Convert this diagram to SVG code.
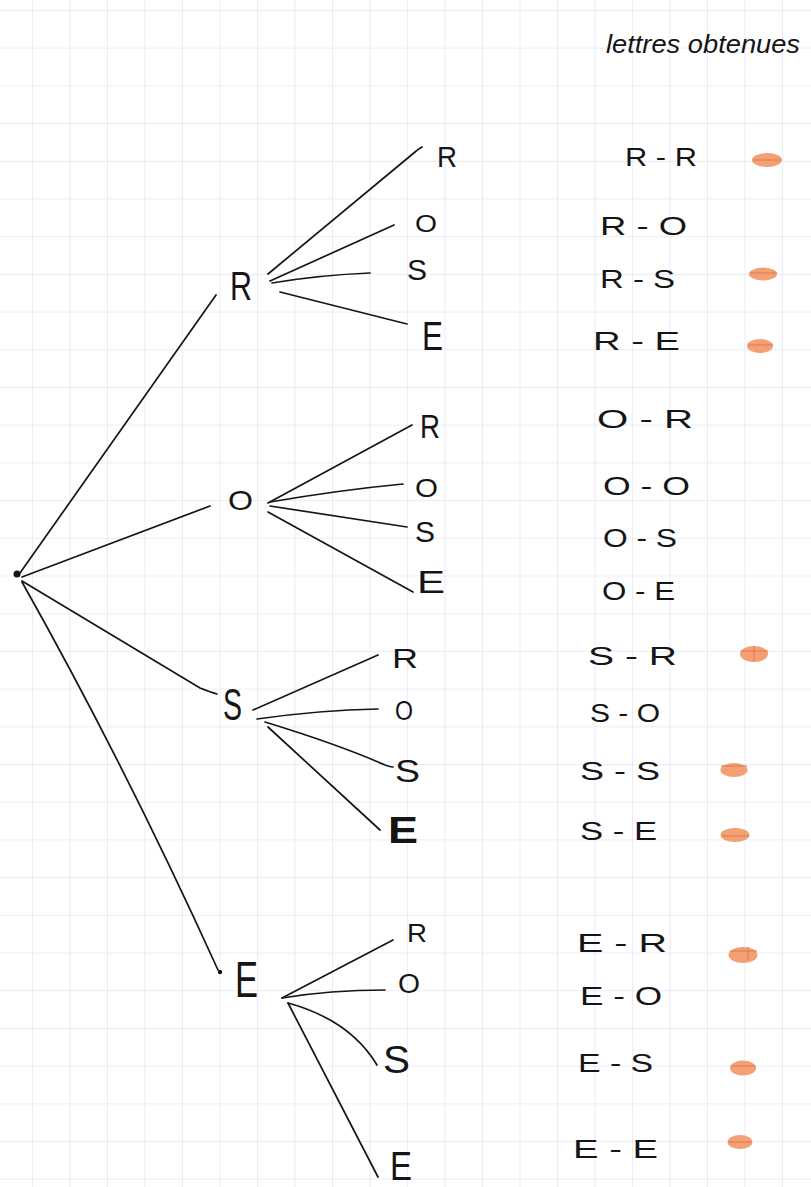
<svg xmlns="http://www.w3.org/2000/svg" width="811" height="1187" viewBox="0 0 811 1187">
<defs>
<pattern id="grid" x="32" y="10" width="37.5" height="37.7" patternUnits="userSpaceOnUse">
<path d="M0,0 H37.5 M0,0 V37.7" fill="none" stroke="#dadaf4" stroke-width="1.1"/>
</pattern>
<style>
.e{fill:none;stroke:#151515;stroke-width:1.7;stroke-linecap:round}
.t{font-family:"Liberation Sans",Arial,sans-serif;fill:#151515}
.c{font-family:"Liberation Sans",Arial,sans-serif;fill:#151515;font-size:26px}
.m{fill:#f3a073}
.ml{stroke:#e07656;stroke-width:1;fill:none}
</style>
</defs>
<rect width="811" height="1187" fill="#ffffff"/>
<rect width="811" height="1187" fill="url(#grid)"/>

<text class="t" x="606" y="53" font-size="26" font-style="italic" textLength="194" lengthAdjust="spacingAndGlyphs">lettres obtenues</text>

<g id="connectors">
<path class="e" d="M20,573 L216,295"/>
<path class="e" d="M22,577 L210,506"/>
<path class="e" d="M22,581 L200,688 Q210,692 217,694"/>
<path class="e" d="M22,582 Q125,765 218,970"/>
<path class="e" d="M268,274 L415,152 Q420,148 422,147"/>
<path class="e" d="M270,281 L394,225"/>
<path class="e" d="M272,283 Q320,275 370,273"/>
<path class="e" d="M280,292 L407,324"/>
<path class="e" d="M268,503 L412,425"/>
<path class="e" d="M270,502 Q340,490 403,484"/>
<path class="e" d="M270,506 L407,527"/>
<path class="e" d="M268,512 L413,592"/>
<path class="e" d="M253,710 L378,655"/>
<path class="e" d="M257,719 Q320,710 378,709"/>
<path class="e" d="M265,722 Q340,745 385,765 Q390,767 393,767"/>
<path class="e" d="M268,727 L380,830"/>
<path class="e" d="M282,998 L393,940"/>
<path class="e" d="M282,998 Q330,990 385,990"/>
<path class="e" d="M288,1003 Q350,1020 377,1065"/>
<path class="e" d="M288,1003 L378,1177"/>
<circle cx="220" cy="972" r="2.2" fill="#151515"/>
</g>

<g id="root"><circle cx="17" cy="574" r="3.5" fill="#151515"/></g>

<g id="n-R"><text class="t" x="230" y="300" font-size="40" textLength="22" lengthAdjust="spacingAndGlyphs">R</text></g>
<g id="n-O"><text class="t" x="228" y="510" font-size="28" textLength="25" lengthAdjust="spacingAndGlyphs">O</text></g>
<g id="n-S"><text class="t" x="223" y="720" font-size="44" textLength="19" lengthAdjust="spacingAndGlyphs">S</text></g>
<g id="n-E"><text class="t" x="235" y="997" font-size="50" textLength="23" lengthAdjust="spacingAndGlyphs">E</text></g>

<g id="n-RR"><text class="t" x="437" y="167" font-size="30" textLength="20" lengthAdjust="spacingAndGlyphs">R</text></g>
<g id="n-RO"><text class="t" x="415" y="232" font-size="24" textLength="22" lengthAdjust="spacingAndGlyphs">O</text></g>
<g id="n-RS"><text class="t" x="407" y="280" font-size="30" textLength="20" lengthAdjust="spacingAndGlyphs">S</text></g>
<g id="n-RE"><text class="t" x="422" y="350" font-size="40" textLength="21" lengthAdjust="spacingAndGlyphs">E</text></g>

<g id="n-OR"><text class="t" x="420" y="438" font-size="34" textLength="20" lengthAdjust="spacingAndGlyphs">R</text></g>
<g id="n-OO"><text class="t" x="415" y="497" font-size="26" textLength="23" lengthAdjust="spacingAndGlyphs">O</text></g>
<g id="n-OS"><text class="t" x="415" y="542" font-size="30" textLength="20" lengthAdjust="spacingAndGlyphs">S</text></g>
<g id="n-OE"><text class="t" x="417" y="593" font-size="32" textLength="28" lengthAdjust="spacingAndGlyphs">E</text></g>

<g id="n-SR"><text class="t" x="392" y="668" font-size="28" textLength="26" lengthAdjust="spacingAndGlyphs">R</text></g>
<g id="n-SO"><text class="t" x="395" y="720" font-size="27" textLength="18" lengthAdjust="spacingAndGlyphs">O</text></g>
<g id="n-SS"><text class="t" x="395" y="782" font-size="32" textLength="25" lengthAdjust="spacingAndGlyphs">S</text></g>
<g id="n-SE"><text class="t" x="388" y="843" font-size="36" font-weight="bold" textLength="30" lengthAdjust="spacingAndGlyphs">E</text></g>

<g id="n-ER"><text class="t" x="407" y="942" font-size="26" textLength="20" lengthAdjust="spacingAndGlyphs">R</text></g>
<g id="n-EO"><text class="t" x="398" y="993" font-size="27" textLength="22" lengthAdjust="spacingAndGlyphs">O</text></g>
<g id="n-ES"><text class="t" x="383" y="1073" font-size="38" textLength="27" lengthAdjust="spacingAndGlyphs">S</text></g>
<g id="n-EE"><text class="t" x="390" y="1180" font-size="40" textLength="22" lengthAdjust="spacingAndGlyphs">E</text></g>

<g id="results">
<text class="c" x="625" y="166" textLength="72" lengthAdjust="spacingAndGlyphs">R - R</text>
<text class="c" x="600" y="235" textLength="87" lengthAdjust="spacingAndGlyphs">R - O</text>
<text class="c" x="600" y="288" textLength="75" lengthAdjust="spacingAndGlyphs">R - S</text>
<text class="c" x="593" y="350" textLength="87" lengthAdjust="spacingAndGlyphs">R - E</text>
<text class="c" x="597" y="428" textLength="96" lengthAdjust="spacingAndGlyphs">O - R</text>
<text class="c" x="603" y="495" textLength="87" lengthAdjust="spacingAndGlyphs">O - O</text>
<text class="c" x="603" y="547" textLength="74" lengthAdjust="spacingAndGlyphs">O - S</text>
<text class="c" x="602" y="600" textLength="73" lengthAdjust="spacingAndGlyphs">O - E</text>
<text class="c" x="588" y="665" textLength="89" lengthAdjust="spacingAndGlyphs">S - R</text>
<text class="c" x="590" y="722" textLength="70" lengthAdjust="spacingAndGlyphs">S - O</text>
<text class="c" x="580" y="780" textLength="80" lengthAdjust="spacingAndGlyphs">S - S</text>
<text class="c" x="580" y="840" textLength="77" lengthAdjust="spacingAndGlyphs">S - E</text>
<text class="c" x="577" y="952" textLength="90" lengthAdjust="spacingAndGlyphs">E - R</text>
<text class="c" x="580" y="1005" textLength="82" lengthAdjust="spacingAndGlyphs">E - O</text>
<text class="c" x="578" y="1072" textLength="75" lengthAdjust="spacingAndGlyphs">E - S</text>
<text class="c" x="573" y="1158" textLength="85" lengthAdjust="spacingAndGlyphs">E - E</text>
</g>

<g id="marks">
<ellipse class="m" cx="767" cy="160" rx="15" ry="7"/><path class="ml" d="M753,160 H781"/>
<ellipse class="m" cx="763" cy="274" rx="14" ry="6.5"/><path class="ml" d="M750,273 H777"/>
<ellipse class="m" cx="760" cy="346" rx="13" ry="7"/><path class="ml" d="M748,345 H773"/>
<ellipse class="m" cx="754" cy="654" rx="14" ry="8"/><path class="ml" d="M741,651 H768 M754,646 V661"/>
<ellipse class="m" cx="734" cy="770" rx="13.5" ry="7"/><path class="ml" d="M721,766 H747"/>
<ellipse class="m" cx="735" cy="835" rx="14.5" ry="7"/><path class="ml" d="M722,836 H749"/>
<ellipse class="m" cx="743" cy="955" rx="14.5" ry="8"/><path class="ml" d="M730,951 H757 M748,947 V960"/>
<ellipse class="m" cx="743" cy="1068" rx="13" ry="7.5"/><path class="ml" d="M731,1066 H756"/>
<ellipse class="m" cx="740" cy="1142" rx="12.5" ry="7"/><path class="ml" d="M728,1142 H752"/>
</g>
</svg>
